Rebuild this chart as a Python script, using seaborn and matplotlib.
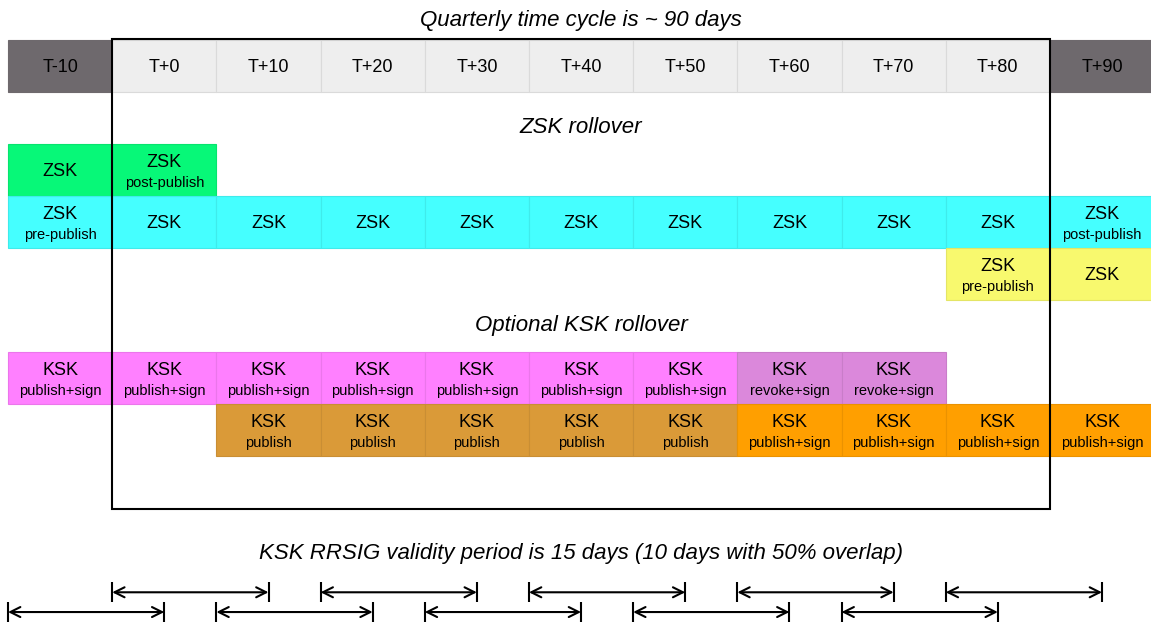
"""DNSSEC key rollover timeline: ZSK / KSK states per 10-day slot."""

import matplotlib.pyplot as plt
import matplotlib.colors as mcolors
import seaborn as sns
from matplotlib.patches import Rectangle

sns.set_theme(style="white")
plt.rcParams["font.family"] = ["Liberation Sans", "DejaVu Sans"]
plt.rcParams["text.color"] = "black"

CELL_DAYS = 10
SIG_DAYS = 15

# header slots
header_days = [-10, 0, 10, 20, 30, 40, 50, 60, 70, 80, 90]
header_labels = ["T-10", "T+0", "T+10", "T+20", "T+30", "T+40",
                 "T+50", "T+60", "T+70", "T+80", "T+90"]

# ZSK rollover rows
zsk_old_days = [-10, 0]
zsk_old_sub = ["", "post-publish"]
zsk_cur_days = [-10, 0, 10, 20, 30, 40, 50, 60, 70, 80, 90]
zsk_cur_sub = ["pre-publish", "", "", "", "", "", "", "", "", "", "post-publish"]
zsk_new_days = [80, 90]
zsk_new_sub = ["pre-publish", ""]

# optional KSK rollover rows
ksk_old_days = [-10, 0, 10, 20, 30, 40, 50, 60, 70]
ksk_old_sub = ["publish+sign"] * 7 + ["revoke+sign"] * 2
ksk_new_days = [10, 20, 30, 40, 50, 60, 70, 80, 90]
ksk_new_sub = ["publish"] * 5 + ["publish+sign"] * 4

# RRSIG validity arrows
sig_upper_starts = [0, 20, 40, 60, 80]
sig_lower_starts = [-10, 10, 30, 50, 70]


def _darker(color, f=0.9):
    r, g, b = mcolors.to_rgb(color)
    return (r * f, g * f, b * f)


def draw_row(ax, days, subs, main, top, colors):
    for d, s, c in zip(days, subs, colors):
        ax.bar(d, 1, width=CELL_DAYS, bottom=top, align="edge",
               color=c, edgecolor=_darker(c, 0.92), linewidth=0.8, zorder=1)
        cx = d + CELL_DAYS / 2
        if s:
            ax.text(cx, top + 0.36, main, ha="center", va="center", fontsize=13, zorder=3)
            ax.text(cx, top + 0.74, s, ha="center", va="center", fontsize=10.5, zorder=3)
        else:
            ax.text(cx, top + 0.52, main, ha="center", va="center", fontsize=13, zorder=3)


fig = plt.figure(figsize=(11.51, 6.24), dpi=100)
ax = fig.add_axes([0, 0, 1, 1])
ax.set_xlim(-10.77, 99.7)
ax.set_ylim(11.23, -0.77)
ax.axis("off")

# header
hdr_colors = ["#6e696d" if d < 0 or d >= 90 else "#eeeeee" for d in header_days]
for d, lab, c in zip(header_days, header_labels, hdr_colors):
    ax.bar(d, 1, width=CELL_DAYS, bottom=0, align="edge", color=c,
           edgecolor="#dadada" if c == "#eeeeee" else c, linewidth=0.8, zorder=1)
    ax.text(d + CELL_DAYS / 2, 0.52, lab, ha="center", va="center", fontsize=13, zorder=3)

ax.text(45, -0.38, "Quarterly time cycle is ~ 90 days", ha="center", va="center",
        fontsize=16, style="italic")
ax.text(45, 1.69, "ZSK rollover", ha="center", va="center", fontsize=16, style="italic")
ax.text(45, 5.48, "Optional KSK rollover", ha="center", va="center", fontsize=16, style="italic")
ax.text(45, 9.88, "KSK RRSIG validity period is 15 days (10 days with 50% overlap)",
        ha="center", va="center", fontsize=16, style="italic")

draw_row(ax, zsk_old_days, zsk_old_sub, "ZSK", 2, ["#07f878"] * len(zsk_old_days))
draw_row(ax, zsk_cur_days, zsk_cur_sub, "ZSK", 3, ["#45ffff"] * len(zsk_cur_days))
draw_row(ax, zsk_new_days, zsk_new_sub, "ZSK", 4, ["#f8f96e"] * len(zsk_new_days))
draw_row(ax, ksk_old_days, ksk_old_sub, "KSK", 6,
         ["#db88db" if s.startswith("revoke") else "#ff80ff" for s in ksk_old_sub])
draw_row(ax, ksk_new_days, ksk_new_sub, "KSK", 7,
         ["#da9a38" if s == "publish" else "#ff9f00" for s in ksk_new_sub])

# quarter frame
ax.add_patch(Rectangle((0, -0.02), 90, 9.04, fill=False, edgecolor="black",
                       linewidth=1.5, zorder=4))

# signature validity arrows
for starts, y in [(sig_upper_starts, 10.62), (sig_lower_starts, 11.0)]:
    for s in starts:
        e = s + SIG_DAYS
        ax.annotate("", xy=(e, y), xytext=(s, y),
                    arrowprops=dict(arrowstyle="<->", color="black", lw=1.5,
                                    mutation_scale=18, shrinkA=0, shrinkB=0))
        ax.vlines([s, e], y - 0.19, y + 0.19, color="black", linewidth=1.5)

plt.savefig("out.png", dpi=100)
plt.close()
